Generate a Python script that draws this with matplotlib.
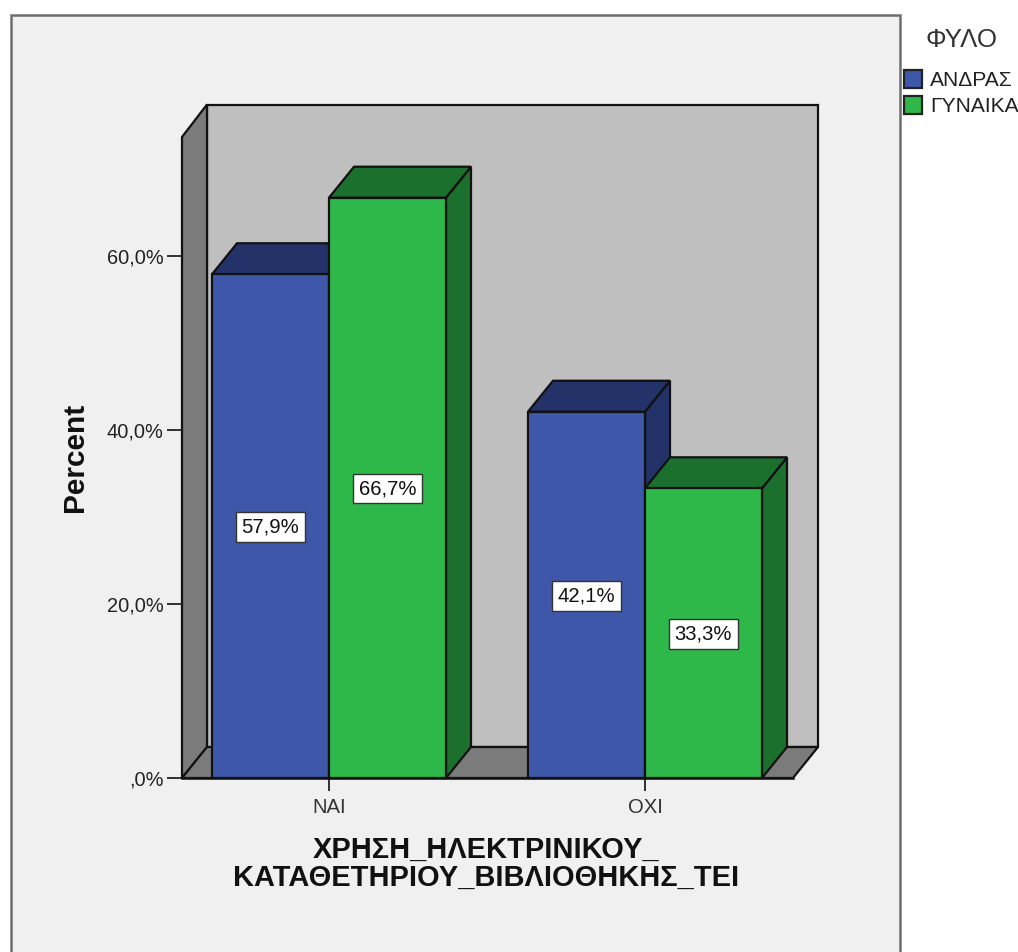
import matplotlib
matplotlib.use("Agg")
import matplotlib.pyplot as plt
from matplotlib.patches import Polygon, Rectangle

plt.rcParams['font.family'] = ['Liberation Sans', 'DejaVu Sans']

categories = ["ΝΑΙ", "ΟΧΙ"]
series_names = ["ΑΝΔΡΑΣ", "ΓΥΝΑΙΚΑ"]
andras = [57.9, 42.1]
gynaika = [66.7, 33.3]
labels_andras = ["57,9%", "42,1%"]
labels_gynaika = ["66,7%", "33,3%"]
yticks = [0, 20, 40, 60]
ytick_labels = [",0%", "20,0%", "40,0%", "60,0%"]
xlabel = "ΧΡΗΣΗ_ΗΛΕΚΤΡΙΝΙΚΟΥ_\nΚΑΤΑΘΕΤΗΡΙΟΥ_ΒΙΒΛΙΟΘΗΚΗΣ_ΤΕΙ"
ylabel = "Percent"
legend_title = "ΦΥΛΟ"

W, H = 1018, 952
fig = plt.figure(figsize=(W / 100, H / 100), dpi=100, facecolor="white")

# outer panel
bg = fig.add_axes([0, 0, 1, 1])
bg.set_xlim(0, W); bg.set_ylim(H, 0); bg.axis("off")
bg.add_patch(Polygon([(11.5, H + 5), (11.5, 14.5), (900, 14.5), (900, H + 5)], closed=True,
                     facecolor="#f0f0f0", edgecolor="#6e6e6e", linewidth=1.8))

# main axes: pixel box of the front plane
L, R, B, T = 182, 793, 778, 137
ax = fig.add_axes([L / W, 1 - B / H, (R - L) / W, (B - T) / H])
ppy = 8.7       # pixels per percent
ppx = 316.0     # pixels per category
x0 = 329
ax.set_xlim((L - x0) / ppx, (R - x0) / ppx)
ax.set_ylim(0, (B - T) / ppy)
ax.patch.set_visible(False)
for s in ax.spines.values():
    s.set_visible(False)

dx = 25 / ppx
dy = 31 / ppy
top_extra = 1.5 / ppy
xa, xb = ax.get_xlim()
yb, yt = ax.get_ylim()
ec = "#111111"
lw = 1.6
wall = "#bfbfbf"
side = "#7b7b7b"


def poly(pts, fc, z=2):
    ax.add_patch(Polygon(pts, closed=True, facecolor=fc, edgecolor=ec, linewidth=lw,
                         joinstyle="miter", clip_on=False, zorder=z))


poly([(xa + dx, dy), (xb + dx, dy), (xb + dx, yt + dy + top_extra), (xa + dx, yt + dy + top_extra)], wall, 1)
poly([(xa, 0), (xa + dx, dy), (xa + dx, yt + dy + top_extra), (xa, yt)], side, 1)
poly([(xa, 0), (xb, 0), (xb + dx, dy), (xa + dx, dy)], side, 1)

bw = 117 / ppx
colors = [("#3f57a9", "#23336a"), ("#2fb84a", "#1b702d")]


def bar3d(x, v, label, cols, z):
    front, dark = cols
    poly([(x + bw, 0), (x + bw + dx, dy), (x + bw + dx, v + dy), (x + bw, v)], dark, z)
    poly([(x, v), (x + dx, v + dy), (x + bw + dx, v + dy), (x + bw, v)], dark, z)
    ax.bar(x, v, width=bw, align="edge", color=front, edgecolor=ec, linewidth=lw,
           clip_on=False, zorder=z)
    ax.text(x + bw / 2, v / 2 - 0.1, label, ha="center", va="center", fontsize=14.6, color="#111111",
            zorder=20, bbox=dict(boxstyle="square,pad=0.26", fc="white", ec="#333333", lw=1.0))


for i in range(len(categories)):
    bar3d(i - bw, andras[i], labels_andras[i], colors[0], 3 + 2 * i)
    bar3d(i, gynaika[i], labels_gynaika[i], colors[1], 4 + 2 * i)

ax.set_xticks(range(len(categories)), categories)
ax.set_yticks(yticks, ytick_labels)
ax.tick_params(axis="x", length=9.5, width=1.3, color="#222222", labelsize=14.6, pad=5, labelcolor="#333333")
ax.tick_params(axis="y", length=11, width=1.3, color="#222222", labelsize=14.4, pad=2.2, labelcolor="#222222")
ax.plot([xa, xb], [0, 0], color=ec, lw=1.8, clip_on=False, zorder=15)

bg.text(486, 864, xlabel, ha="center", va="center", fontsize=20.9, fontweight="bold",
        color="#111111", linespacing=1.02)
bg.text(75, 457, ylabel, ha="center", va="center", rotation=90, fontsize=21.5, fontweight="bold",
        color="#111111")

# legend, in figure pixels
bg.text(962, 40, legend_title, ha="center", va="center", fontsize=18.6, color="#333333")
for y, name, c in zip([79, 105], series_names, colors):
    bg.add_patch(Rectangle((904, y - 9.5), 18, 18, facecolor=c[0], edgecolor="#222222", linewidth=1.6))
    bg.text(930, y + 1, name, ha="left", va="center", fontsize=15.1, color="#222222")

fig.savefig("out.png", dpi=100, facecolor="white")
